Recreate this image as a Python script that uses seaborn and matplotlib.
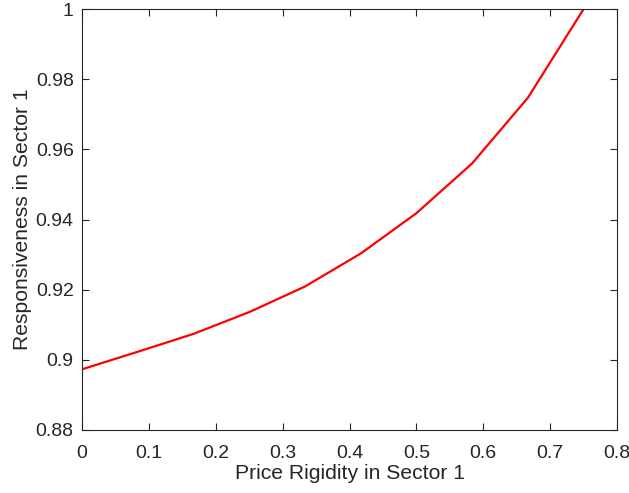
import matplotlib
matplotlib.use("Agg")
import matplotlib.pyplot as plt
import seaborn as sns
import pandas as pd

# Price rigidity grid and sectoral responsiveness
rigidity = [0.0, 1/12, 2/12, 3/12, 4/12, 5/12, 6/12, 7/12, 8/12, 9/12]
responsiveness = [0.8973, 0.9023, 0.9074, 0.9136, 0.9209, 0.9303, 0.9418, 0.9560, 0.9747, 1.0000]

x_ticks = [0, 0.1, 0.2, 0.3, 0.4, 0.5, 0.6, 0.7, 0.8]
x_tick_labels = ["0", "0.1", "0.2", "0.3", "0.4", "0.5", "0.6", "0.7", "0.8"]
y_ticks = [0.88, 0.9, 0.92, 0.94, 0.96, 0.98, 1.0]
y_tick_labels = ["0.88", "0.9", "0.92", "0.94", "0.96", "0.98", "1"]

sns.set_style("ticks")
plt.rcParams["font.family"] = ["Liberation Sans", "DejaVu Sans"]

df = pd.DataFrame({"rigidity": rigidity, "responsiveness": responsiveness})

fig = plt.figure(figsize=(6.29, 4.93), dpi=100)
ax = fig.add_axes([0.1304, 0.1278, 0.8506, 0.8539])

sns.lineplot(data=df, x="rigidity", y="responsiveness", ax=ax,
             color="#ff0000", linewidth=1.6)

ax.set_xlim(0, 0.8)
ax.set_ylim(0.88, 1.0)
ax.set_xticks(x_ticks)
ax.set_xticklabels(x_tick_labels)
ax.set_yticks(y_ticks)
ax.set_yticklabels(y_tick_labels)

edge = "#262626"
for side in ["top", "right", "bottom", "left"]:
    ax.spines[side].set_visible(True)
    ax.spines[side].set_color(edge)
    ax.spines[side].set_linewidth(0.8)

ax.tick_params(direction="in", length=5, width=0.8, color=edge,
               labelcolor=edge, labelsize=14,
               top=True, right=True)
ax.tick_params(axis="x", pad=10.5)
ax.tick_params(axis="y", pad=6)

ax.set_xlabel("Price Rigidity in Sector 1", fontsize=15.2, color=edge, labelpad=2)
ax.set_ylabel("Responsiveness in Sector 1", fontsize=15.2, color=edge, labelpad=3)

fig.savefig("out.png", dpi=100)
